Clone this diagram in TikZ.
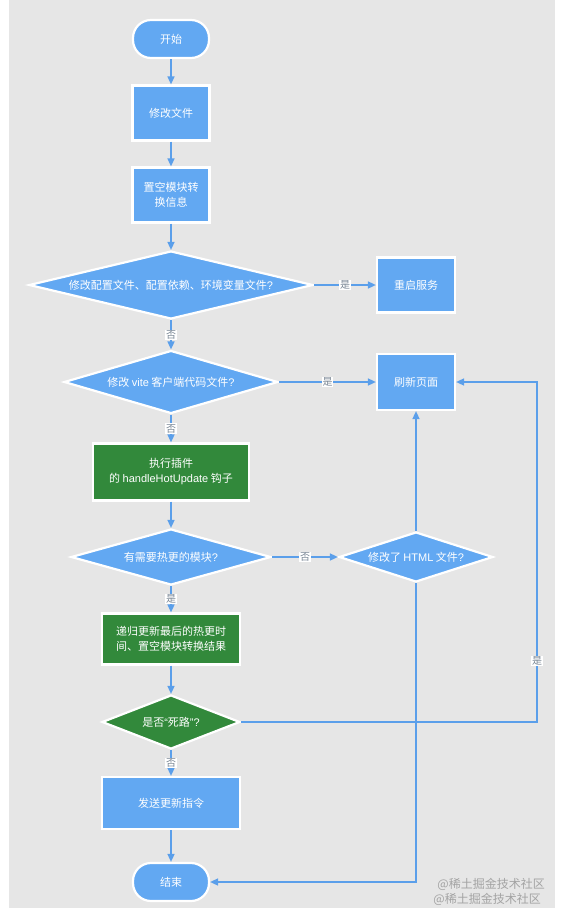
\documentclass[tikz,border=0pt]{standalone}
\usepackage{fontspec}
\setmainfont{Noto Sans CJK SC}
\newfontfamily\lat{Liberation Sans}
\usetikzlibrary{shapes.geometric,arrows.meta}
\definecolor{bg}{HTML}{E6E6E6}
\definecolor{nblue}{HTML}{62A8F2}
\definecolor{ngreen}{HTML}{32893B}
\definecolor{lblue}{HTML}{5B9FEA}
\definecolor{lbltext}{HTML}{7A8795}
\definecolor{wmc}{HTML}{A3A3A3}
\begin{document}
\begin{tikzpicture}[x=1pt,y=-1pt,font=\fontsize{11}{15}\selectfont,
  base/.style={draw=white,line width=2.2pt,text=white,inner sep=0pt,align=center},
  term/.style={base,fill=nblue,rounded corners=18pt,minimum width=76pt,minimum height=38pt},
  proc/.style={base,fill=nblue},
  gproc/.style={base,fill=ngreen},
  dec/.style={base,fill=nblue,diamond,aspect=4},
  gdec/.style={base,fill=ngreen,diamond,aspect=2.5},
  arr/.style={draw=lblue,line width=1.5pt,-{Triangle[length=8pt,width=7pt]}},
  lbl/.style={fill=white,text=lbltext,font=\fontsize{10}{10}\selectfont,inner sep=0.8pt},
  wm/.style={text=wmc,font=\fontsize{12}{12}\selectfont,inner sep=0pt}]
\useasboundingbox (0,0) rectangle (563,908);
\fill[bg] (9,0) rectangle (555,908);

\node[term] (start) at (171,39) {开始};
\node[proc,minimum width=77pt,minimum height=55pt] (n1) at (171,113) {修改文件};
\node[proc,minimum width=77pt,minimum height=55pt] (n2) at (171,195) {置空模块转\\换信息};
\node[dec,minimum width=284pt,minimum height=68pt] (d1) at (171,285) {修改配置文件、配置依赖、环境变量文件{\lat ?}};
\node[proc,minimum width=78pt,minimum height=55pt] (restart) at (416,285) {重启服务};
\node[dec,minimum width=214pt,minimum height=63pt] (d2) at (171,382) {修改 {\lat vite} 客户端代码文件{\lat ?}};
\node[proc,minimum width=78pt,minimum height=56pt] (refresh) at (416,382) {刷新页面};
\node[gproc,minimum width=156pt,minimum height=57pt] (g1) at (171,472) {执行插件\\的 {\lat handleHotUpdate} 钩子};
\node[dec,minimum width=200pt,minimum height=56pt] (d3) at (171,557) {有需要热更的模块{\lat ?}};
\node[dec,minimum width=154pt,minimum height=50pt] (d4) at (416,557) {修改了 {\lat HTML} 文件{\lat ?}};
\node[gproc,minimum width=138pt,minimum height=51pt] (g2) at (171,639) {递归更新最后的热更时\\间、置空模块转换结果};
\node[gdec,minimum width=138pt,minimum height=54pt] (d5) at (171,722) {是否{\lat “}死路{\lat ”?}};
\node[proc,minimum width=138pt,minimum height=52pt] (send) at (171,803) {发送更新指令};
\node[term] (end) at (171,882) {结束};

\coordinate (c1) at (537,722);
\coordinate (c2) at (537,382);
\coordinate (c3) at (416,882);

\draw[arr] (start) -- (n1);
\draw[arr] (n1) -- (n2);
\draw[arr] (n2) -- (d1);
\draw[arr] (d1) -- node[lbl]{是} (restart);
\draw[arr] (d1) -- node[lbl]{否} (d2);
\draw[arr] (d2) -- node[lbl]{是} (refresh);
\draw[arr] (d2) -- node[lbl]{否} (g1);
\draw[arr] (g1) -- (d3);
\draw[arr] (d3) -- node[lbl]{否} (d4);
\draw[arr] (d3) -- node[lbl]{是} (g2);
\draw[arr] (d4) -- (refresh);
\draw[arr] (d4.south) -- (c3) -- (end.east);
\draw[arr] (g2) -- (d5);
\draw[arr] (d5.east) -- (c1) -- node[lbl,pos=0.18]{是} (c2) -- (refresh.east);
\draw[arr] (d5) -- node[lbl]{否} (send);
\draw[arr] (send) -- (end);

\node[wm,anchor=east] (wm1) at (545,884) {@稀土掘金技术社区};
\node[wm,anchor=east] (wm2) at (541,899) {@稀土掘金技术社区};
\end{tikzpicture}
\end{document}
